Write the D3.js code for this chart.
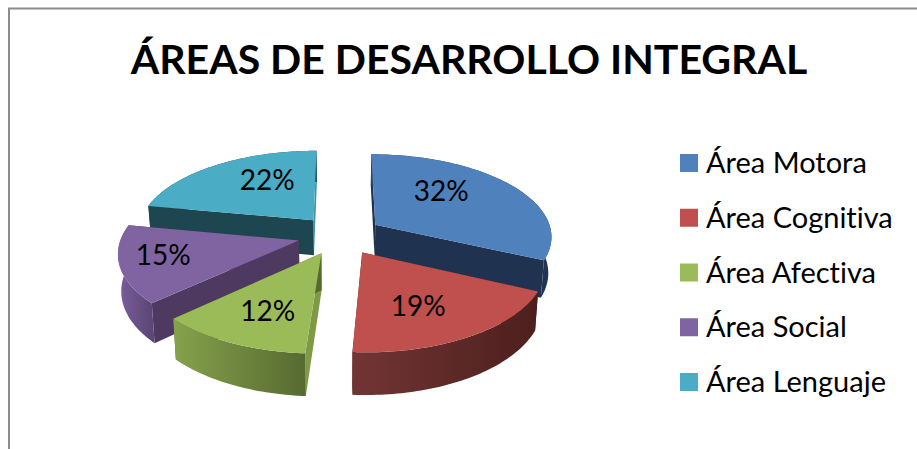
<!DOCTYPE html>
<html>
<head>
<meta charset="utf-8">
<script src="https://cdn.jsdelivr.net/npm/d3@7"></script>
<style>
    html, body { margin: 0; padding: 0; background: #fff; overflow: hidden; }
    svg { display: block; font-family: Lato, "Open Sans", sans-serif; font-variant-ligatures: none; }
</style>
</head>
<body>
<div id="chart"></div>
<script>
let categories = ['Área Motora', 'Área Cognitiva', 'Área Afectiva', 'Área Social', 'Área Lenguaje'];
let values = [32, 19, 12, 15, 22];
let titleText = 'ÁREAS DE DESARROLLO INTEGRAL';

let topColors = ['#4f81bd', '#c0504d', '#9bbb59', '#8064a2', '#4bacc6'];
let wallLeftColors = ['#2a4566', '#723534', '#86a24c', '#7a5e9b', '#1e4650'];
let wallRightColors = ['#1e3450', '#4c1f1d', '#566a30', '#5b4676', '#1e4650'];
let startWallColors = ['#1f3350', '#4c1f1d', '#7f9a47', '#4e3a60', '#1e4650'];
let endWallColors = ['#1f3350', '#4c1f1d', '#566a30', '#4e3a60', '#3f93a9'];

const width = 917, height = 449;

// where the % label sits on each top face: distance from the apex and share of the sweep
const labelRadius = [0.58, 0.66, 0.69, 0.76, 0.59];
const labelTurn = [0.39, 0.59, 0.43, 0.52, 0.62];

// pseudo 3D view: the pie lies flat, things closer to the viewer get bigger
const cx = 340, cy = 235, radiusX = 177, radiusY = 82, perspective = 0.13, explode = 0.24, wallHeight = 36;

function project(u, v, lift) {
    let s = 1 / (1 + perspective * v);
    let shrink = lift ? 0.985 : 1;
    return [
        cx + radiusX * u * s * shrink,
        cy - radiusY * v * s + (lift ? wallHeight * s : 0)
    ];
}

let pie = d3.pie().sort(null).value(d => d);
let slices = pie(values).map((d, i) => {
    let mid = (d.startAngle + d.endAngle) / 2;
    return {
        i: i,
        start: d.startAngle,
        end: d.endAngle,
        mid: mid,
        ox: explode * Math.sin(mid),
        oy: explode * Math.cos(mid)
    };
});

function pointAt(d, angle, r, lift) {
    return project(d.ox + r * Math.sin(angle), d.oy + r * Math.cos(angle), lift);
}

function arcAngles(d) {
    let n = Math.ceil((d.end - d.start) / 0.02);
    return d3.range(n + 1).map(k => d.start + (d.end - d.start) * k / n);
}

function labelPoint(d) {
    let angle = d.start + (d.end - d.start) * labelTurn[d.i];
    return pointAt(d, angle, labelRadius[d.i], false);
}

let line = d3.line();

let svg = d3.select('#chart').append('svg')
    .attr('width', width)
    .attr('height', height);

let defs = svg.append('defs');

svg.append('rect')
    .attr('width', width)
    .attr('height', height)
    .attr('fill', '#fff');

// chart border, only the top and left edges are inside the crop
svg.append('path')
    .attr('d', line([[9, height], [9, 8.5], [width, 8.5]]))
    .attr('fill', 'none')
    .attr('stroke', '#8c8c8c')
    .attr('stroke-width', 2);

svg.append('text')
    .attr('x', 469)
    .attr('y', 74)
    .attr('text-anchor', 'middle')
    .attr('font-size', 41)
    .attr('font-weight', 700)
    .attr('fill', '#000')
    .text(titleText);

// back slices first
let order = slices.slice().sort((a, b) => b.oy - a.oy);

order.forEach(d => {
    let g = svg.append('g').attr('class', 'slice slice-' + d.i);
    let angles = arcAngles(d);

    let startTop = pointAt(d, d.start, 1, false), startBottom = pointAt(d, d.start, 1, true);
    let endTop = pointAt(d, d.end, 1, false), endBottom = pointAt(d, d.end, 1, true);
    let apexTop = pointAt(d, 0, 0, false), apexBottom = pointAt(d, 0, 0, true);

    g.append('path')
        .attr('d', line([apexTop, startTop, startBottom, apexBottom]) + 'Z')
        .attr('fill', startWallColors[d.i]);
    g.append('path')
        .attr('d', line([apexTop, endTop, endBottom, apexBottom]) + 'Z')
        .attr('fill', endWallColors[d.i]);

    let topArc = angles.map(a => pointAt(d, a, 1, false));
    let bottomArc = angles.map(a => pointAt(d, a, 1, true));
    let xs = d3.extent(topArc, p => p[0]);

    let gradient = defs.append('linearGradient')
        .attr('id', 'wall-' + d.i)
        .attr('gradientUnits', 'userSpaceOnUse')
        .attr('x1', xs[0]).attr('x2', xs[1])
        .attr('y1', 0).attr('y2', 0);
    gradient.append('stop').attr('offset', 0).attr('stop-color', wallLeftColors[d.i]);
    gradient.append('stop').attr('offset', 1).attr('stop-color', wallRightColors[d.i]);

    g.append('path')
        .attr('d', line(topArc.concat(bottomArc.slice().reverse())) + 'Z')
        .attr('fill', 'url(#wall-' + d.i + ')');

    g.append('path')
        .attr('d', line([apexTop].concat(topArc)) + 'Z')
        .attr('fill', topColors[d.i]);
});

// percentage labels sit on the top faces
let total = d3.sum(values);
svg.append('g').selectAll('text')
    .data(slices)
    .join('text')
    .attr('x', d => labelPoint(d)[0])
    .attr('y', d => labelPoint(d)[1] + 7)
    .attr('text-anchor', 'middle')
    .attr('font-size', 28)
    .attr('fill', '#000')
    .text(d => Math.round(values[d.i] / total * 100) + '%');

let legendY = d3.scalePoint().domain(categories).range([163, 382]);

let legend = svg.append('g').selectAll('g')
    .data(categories)
    .join('g')
    .attr('transform', d => 'translate(680,' + legendY(d) + ')');

legend.append('rect')
    .attr('y', -9)
    .attr('width', 18)
    .attr('height', 18)
    .attr('fill', (d, i) => topColors[i]);

legend.append('text')
    .attr('x', 26)
    .attr('y', 10)
    .attr('font-size', 29)
    .attr('fill', '#000')
    .text(d => d);
</script>
</body>
</html>
